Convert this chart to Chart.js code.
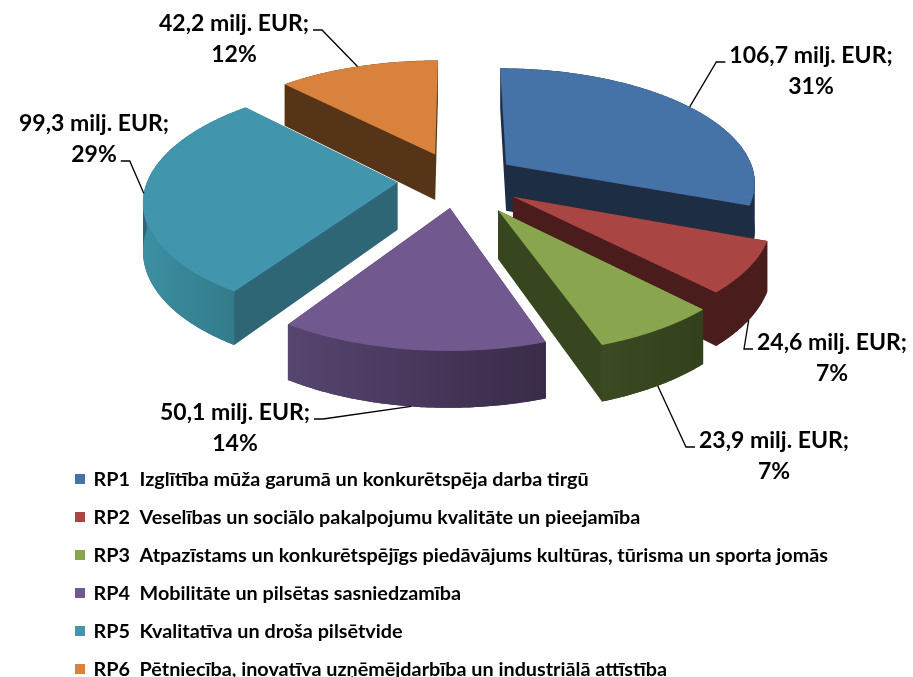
<!DOCTYPE html>
<html><head><meta charset="utf-8">
<script src="https://cdn.jsdelivr.net/npm/chart.js@4/dist/chart.umd.min.js"></script>
<style>html,body{margin:0;padding:0;background:#fff;overflow:hidden}#wrap{width:913px;height:677px}</style>
</head><body><div id="wrap"><canvas id="c" width="913" height="677"></canvas></div>
<script>
// ---- data ----
const categories = [
  'RP1  Izglītība mūža garumā un konkurētspēja darba tirgū',
  'RP2  Veselības un sociālo pakalpojumu kvalitāte un pieejamība',
  'RP3  Atpazīstams un konkurētspējīgs piedāvājums kultūras, tūrisma un sporta jomās',
  'RP4  Mobilitāte un pilsētas sasniedzamība',
  'RP5  Kvalitatīva un droša pilsētvide',
  'RP6  Pētniecība, inovatīva uzņēmējdarbība un industriālā attīstība'
];
const values = [106.7, 24.6, 23.9, 50.1, 99.3, 42.2];
const unitLabel = ' milj. EUR;';

// ---- style ----
const topColors  = ['#4572A7', '#A94542', '#89A54E', '#71598F', '#4196AE', '#D9823D'];
const sideColors = ['#1d2d44', '#4a1c1b', '#37461f', '#47395f', '#2e6676', '#553418'];
const wallColors = [['#1d2d44','#1d2d44'], ['#4a1c1b','#4a1c1b'], ['#3b4a22','#33411c'],
                    ['#56456f','#392b49'], ['#3c8fa2','#327b8b'], ['#553418','#553418']];
const explode = [60, 65, 75, 60, 60, 62];
const labelPos = [[811, 56], [832, 343], [774, 441], [235, 413], [94, 124], [234, 24]];
const leaderSide = ['L', 'L', 'L', 'R', 'R', 'R'];
const leaderLine = [0, 0, 0, 0, 1, 0];
const LABEL_FONT = 'bold 23px Lato';
const LEGEND_FONT = 'bold 19.8px Lato';
const LEGEND_X = 75, LEGEND_Y = 480, LEGEND_STEP = 38, LEGEND_BOX = 10;

// perspective projection of the pie plane
const PERSP = 1777, K0 = 0.456, SX0 = 457.6, SY0 = 180, DEPTH = 47;
const sOf = v => PERSP / (PERSP - v);
const proj = (u, v, z) => { const s = sOf(v); return [SX0 + u * s, SY0 + K0 * v * s + z * s]; };
const vOfY = yy => { const y = yy - SY0; return y * PERSP / (K0 * PERSP + y); };

function geometry(chart) {
  const arcs = chart.getDatasetMeta(0).data;
  return arcs.map((el, i) => {
    const p = el.getProps(['x', 'y', 'startAngle', 'endAngle', 'outerRadius'], true);
    const mid = (p.startAngle + p.endAngle) / 2;
    return { el, i, x: p.x, y: p.y, a0: p.startAngle, a1: p.endAngle, r: p.outerRadius, mid,
             ox: explode[i] * Math.cos(mid), oy: explode[i] * Math.sin(mid) };
  });
}
function arcPts(g, from, to) {
  const n = Math.max(6, Math.ceil((to - from) / 0.01));
  const pts = [];
  for (let k = 0; k <= n; k++) {
    const a = from + (to - from) * k / n;
    pts.push([g.ox + g.r * Math.cos(a), g.oy + g.r * Math.sin(a)]);
  }
  return pts;
}
function addPoly(ctx, poly) {
  let area = 0;
  for (let k = 0; k < poly.length; k++) {
    const a = poly[k], b = poly[(k + 1) % poly.length];
    area += a[0] * b[1] - b[0] * a[1];
  }
  if (area < 0) poly = poly.slice().reverse();
  ctx.moveTo(poly[0][0], poly[0][1]);
  for (let k = 1; k < poly.length; k++) ctx.lineTo(poly[k][0], poly[k][1]);
  ctx.closePath();
}

const pie3d = {
  id: 'pie3d',
  beforeDatasetsDraw(chart) {
    const ctx = chart.ctx, dpr = chart.currentDevicePixelRatio;
    const geo = geometry(chart);
    const order = geo.slice().sort((a, b) => a.oy - b.oy);
    ctx.save();
    ctx.setTransform(dpr, 0, 0, dpr, 0, 0);
    // side walls (extrusion)
    order.forEach(g => {
      const pts = [[g.ox, g.oy]].concat(arcPts(g, g.a0, g.a1));
      const top = pts.map(p => proj(p[0], p[1], 0));
      const bot = pts.map(p => proj(p[0], p[1], DEPTH));
      ctx.beginPath();
      addPoly(ctx, bot);
      for (let k = 0; k < pts.length; k++) {
        const k2 = (k + 1) % pts.length;
        addPoly(ctx, [top[k], top[k2], bot[k2], bot[k]]);
      }
      ctx.fillStyle = sideColors[g.i];
      ctx.fill('nonzero');
      const f0 = Math.max(g.a0, 0), f1 = Math.min(g.a1, Math.PI);
      if (f1 > f0) {
        const ap = arcPts(g, f0, f1);
        const t = ap.map(p => proj(p[0], p[1], 0));
        const b = ap.map(p => proj(p[0], p[1], DEPTH)).reverse();
        const poly = t.concat(b);
        let xmin = Infinity, xmax = -Infinity;
        poly.forEach(p => { xmin = Math.min(xmin, p[0]); xmax = Math.max(xmax, p[0]); });
        const grad = ctx.createLinearGradient(xmin, 0, xmax, 0);
        grad.addColorStop(0, wallColors[g.i][0]);
        grad.addColorStop(1, wallColors[g.i][1]);
        ctx.beginPath();
        addPoly(ctx, poly);
        ctx.fillStyle = grad;
        ctx.fill();
      }
    });
    ctx.restore();
    // top faces: Chart.js arc elements drawn through a banded perspective transform
    const BAND = 2;
    for (let y0 = 40; y0 < 380; y0 += BAND) {
      const ym = y0 + BAND / 2, vm = vOfY(ym), s = sOf(vm);
      const hp = K0 * PERSP * PERSP / ((PERSP - vm) * (PERSP - vm));
      order.forEach(g => {
        ctx.save();
        ctx.setTransform(dpr, 0, 0, dpr, 0, 0);
        ctx.beginPath();
        ctx.rect(0, y0, chart.width, BAND);
        ctx.clip();
        ctx.setTransform(dpr * s, 0, 0, dpr * hp, dpr * (SX0 - s * g.x), dpr * (ym - hp * (g.y + vm)));
        ctx.translate(g.ox, g.oy);
        g.el.draw(ctx);
        ctx.restore();
      });
    }
    return false;
  },
  afterDraw(chart) {
    const ctx = chart.ctx, dpr = chart.currentDevicePixelRatio;
    const geo = geometry(chart);
    const total = values.reduce((a, b) => a + b, 0);
    ctx.save();
    ctx.setTransform(dpr, 0, 0, dpr, 0, 0);
    // data labels with leader lines
    ctx.font = LABEL_FONT;
    ctx.fillStyle = '#000';
    ctx.strokeStyle = '#000';
    ctx.lineWidth = 1.3;
    ctx.textAlign = 'center';
    ctx.textBaseline = 'middle';
    geo.forEach(g => {
      const i = g.i;
      const l1 = values[i].toFixed(1).replace('.', ',') + unitLabel;
      const l2 = Math.round(values[i] / total * 100) + '%';
      const [cx, cy] = labelPos[i];
      ctx.fillText(l1, cx, cy);
      ctx.fillText(l2, cx, cy + 31);
      const txt = leaderLine[i] ? l2 : l1;
      const w = ctx.measureText(txt).width;
      const ly = cy + 31 * leaderLine[i] + 6;
      const px = leaderSide[i] === 'L' ? cx - w / 2 - 4 : cx + w / 2 + 4;
      const ex = leaderSide[i] === 'L' ? px - 9 : px + 9;
      const front = Math.sin(g.mid) > 0.3;
      const A = proj(g.ox + g.r * Math.cos(g.mid), g.oy + g.r * Math.sin(g.mid), front ? DEPTH : 0);
      ctx.beginPath();
      ctx.moveTo(px, ly);
      ctx.lineTo(ex, ly);
      ctx.lineTo(A[0], A[1]);
      ctx.stroke();
    });
    // legend: one entry per row, items generated by Chart.js
    let items;
    try { items = chart.options.plugins.legend.labels.generateLabels(chart); } catch (e) { items = null; }
    if (!items || !items.length) {
      items = chart.data.labels.map((t, i) => ({ text: t, fillStyle: topColors[i] }));
    }
    ctx.font = LEGEND_FONT;
    ctx.textAlign = 'left';
    ctx.textBaseline = 'middle';
    items.forEach((it, i) => {
      const y = LEGEND_Y + LEGEND_STEP * i;
      ctx.fillStyle = it.fillStyle;
      ctx.fillRect(LEGEND_X, y - LEGEND_BOX / 2 - 1, LEGEND_BOX, LEGEND_BOX);
      ctx.fillStyle = '#000';
      ctx.fillText(it.text, LEGEND_X + LEGEND_BOX + 8.5, y);
    });
    ctx.restore();
  }
};

new Chart(document.getElementById('c'), {
  type: 'pie',
  data: {
    labels: categories,
    datasets: [{ data: values, backgroundColor: topColors, borderWidth: 0, offset: 0, radius: 250 }]
  },
  options: {
    responsive: false,
    animation: false,
    events: [],
    plugins: {
      tooltip: { enabled: false },
      legend: { display: false }
    }
  },
  plugins: [pie3d]
});
</script>
</body></html>
